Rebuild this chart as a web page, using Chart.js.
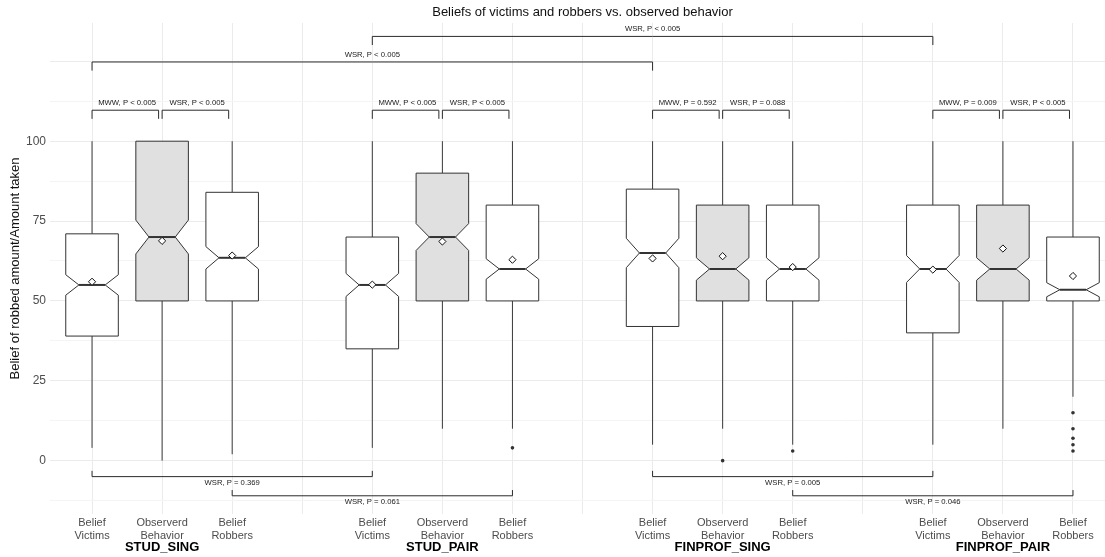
<!DOCTYPE html>
<html>
<head>
<meta charset="utf-8">
<script src="https://cdn.jsdelivr.net/npm/chart.js@4.4.1/dist/chart.umd.min.js"></script>
<style>
  html, body { margin: 0; padding: 0; background: #fff; overflow: hidden; }
  #chart { display: block; }
</style>
</head>
<body>
<canvas id="chart" width="1105" height="557"></canvas>
<script>
// ---- data -------------------------------------------------------------
const groups   = ['STUD_SING', 'STUD_PAIR', 'FINPROF_SING', 'FINPROF_PAIR'];
const measures = [['Belief', 'Victims'], ['Observerd', 'Behavior'], ['Belief', 'Robbers']];

// one entry per box, group by group: victims, observed, robbers
const whiskerLow  = [4, 0, 2,      4, 10, 10,    5, 10, 5,     5, 10, 20];
const lowerHinge  = [39, 50, 50,   35, 50, 50,   42, 50, 50,   40, 50, 50];
const medians     = [55, 70, 63.5, 55, 70, 60,   65, 60, 60,   60, 60, 53.5];
const upperHinge  = [71, 100, 84,  70, 90, 80,   85, 80, 80,   80, 80, 70];
const whiskerHigh = [100, 100, 100, 100, 100, 100, 100, 100, 100, 100, 100, 100];
const notchLow    = [51.8, 64.7, 60.0, 51.4, 65.8, 56.8, 60.4, 56.5, 56.5, 55.8, 56.5, 51.3];
const notchHigh   = [58.2, 75.3, 67.0, 58.6, 74.2, 63.2, 69.6, 63.5, 63.5, 64.2, 63.5, 55.7];
const means       = [56, 68.8, 64.2, 55.1, 68.6, 62.9, 63.3, 64, 60.6, 59.8, 66.4, 57.8];
const observedBox = [false, true, false, false, true, false, false, true, false, false, true, false];

// outlying observations: box index and value
const outlierBox  = [5, 7, 8, 11, 11, 11, 11, 11];
const outlierVals = [4, 0, 3, 15, 10, 7, 5, 3];

// significance tests drawn above the boxes (x slots, bracket height, label)
const aboveFrom  = [1, 2, 5, 6, 9, 10, 13, 14, 1, 5];
const aboveTo    = [2, 3, 6, 7, 10, 11, 14, 15, 9, 13];
const aboveLevel = [109.7, 109.7, 109.7, 109.7, 109.7, 109.7, 109.7, 109.7, 124.8, 132.8];
const aboveLabel = ['MWW, P < 0.005', 'WSR, P < 0.005', 'MWW, P < 0.005', 'WSR, P < 0.005',
                    'MWW, P = 0.592', 'WSR, P = 0.088', 'MWW, P = 0.009', 'WSR, P < 0.005',
                    'WSR, P < 0.005', 'WSR, P < 0.005'];

// significance tests drawn below the boxes
const belowFrom  = [1, 3, 9, 11];
const belowTo    = [5, 7, 13, 15];
const belowLevel = [-5, -11, -5, -11];
const belowLabel = ['WSR, P = 0.369', 'WSR, P = 0.061', 'WSR, P = 0.005', 'WSR, P = 0.046'];

const yTickLabels = [0, 25, 50, 75, 100];
const chartTitle = 'Beliefs of victims and robbers vs. observed behavior';

// ---- helpers ----------------------------------------------------------
const FONT = "'Liberation Sans', Arial, Helvetica, sans-serif";
const X_MIN = 0.4, X_FULL_MAX = 15.6;          // full panel: 15 slots plus side margins
const X_MAX = 15.457;                          // the canvas ends just short of the panel edge
const slotOf = i => Math.floor(i / 3) * 4 + (i % 3) + 1;
const slots = [];
for (let s = 1; s <= 15; s++) slots.push(s);

const meanPoints = means.map((v, i) => ({ x: slotOf(i), y: v }));
const outlierPoints = outlierVals.map((v, k) => ({ x: slotOf(outlierBox[k]), y: v }));

// notched boxes, whiskers, test brackets and the panel title
const boxPlugin = {
  id: 'notchedBoxes',
  beforeDatasetsDraw(chart) {
    const { ctx, scales: { x, y } } = chart;
    ctx.save();
    for (let i = 0; i < medians.length; i++) {
      const s = slotOf(i);
      const xc = x.getPixelForValue(s);
      const x0 = x.getPixelForValue(s - 0.375);
      const x1 = x.getPixelForValue(s + 0.375);
      const n0 = x.getPixelForValue(s - 0.1875);
      const n1 = x.getPixelForValue(s + 0.1875);
      const yq1 = y.getPixelForValue(lowerHinge[i]);
      const yq3 = y.getPixelForValue(upperHinge[i]);
      const ym = y.getPixelForValue(medians[i]);
      const ynl = y.getPixelForValue(notchLow[i]);
      const ynh = y.getPixelForValue(notchHigh[i]);

      // whiskers
      ctx.strokeStyle = '#3a3a3a';
      ctx.lineWidth = 1;
      ctx.beginPath();
      if (whiskerHigh[i] > upperHinge[i]) {
        ctx.moveTo(xc, yq3);
        ctx.lineTo(xc, y.getPixelForValue(whiskerHigh[i]));
      }
      if (whiskerLow[i] < lowerHinge[i]) {
        ctx.moveTo(xc, yq1);
        ctx.lineTo(xc, y.getPixelForValue(whiskerLow[i]));
      }
      ctx.stroke();

      // notched box
      ctx.beginPath();
      ctx.moveTo(x0, yq3);
      ctx.lineTo(x0, ynh);
      ctx.lineTo(n0, ym);
      ctx.lineTo(x0, ynl);
      ctx.lineTo(x0, yq1);
      ctx.lineTo(x1, yq1);
      ctx.lineTo(x1, ynl);
      ctx.lineTo(n1, ym);
      ctx.lineTo(x1, ynh);
      ctx.lineTo(x1, yq3);
      ctx.closePath();
      ctx.fillStyle = observedBox[i] ? '#e0e0e0' : '#ffffff';
      ctx.fill();
      ctx.strokeStyle = '#333333';
      ctx.lineWidth = 1;
      ctx.stroke();

      // median
      ctx.beginPath();
      ctx.moveTo(n0, ym);
      ctx.lineTo(n1, ym);
      ctx.lineWidth = 2;
      ctx.strokeStyle = '#333333';
      ctx.stroke();
    }
    ctx.restore();
  },
  afterDatasetsDraw(chart) {
    const { ctx, scales: { x, y } } = chart;
    ctx.save();
    ctx.strokeStyle = '#2b2b2b';
    ctx.lineWidth = 1;
    ctx.fillStyle = '#1a1a1a';
    ctx.font = `7.7px ${FONT}`;
    ctx.textAlign = 'center';
    ctx.textBaseline = 'middle';

    // brackets above: tips point down
    for (let k = 0; k < aboveFrom.length; k++) {
      const adjacent = aboveTo[k] - aboveFrom[k] === 1;
      const xa = x.getPixelForValue(aboveFrom[k]);
      const xb = x.getPixelForValue(aboveTo[k] - (adjacent ? 0.05 : 0));
      const yl = y.getPixelForValue(aboveLevel[k]);
      const yt = y.getPixelForValue(aboveLevel[k] - 2.7);
      ctx.beginPath();
      ctx.moveTo(xa, yt);
      ctx.lineTo(xa, yl);
      ctx.lineTo(xb, yl);
      ctx.lineTo(xb, yt);
      ctx.stroke();
      const xm = x.getPixelForValue((aboveFrom[k] + aboveTo[k]) / 2);
      ctx.fillText(aboveLabel[k], xm, yl - 7.5);
    }

    // brackets below: tips point up
    for (let k = 0; k < belowFrom.length; k++) {
      const xa = x.getPixelForValue(belowFrom[k]);
      const xb = x.getPixelForValue(belowTo[k]);
      const yl = y.getPixelForValue(belowLevel[k]);
      const yt = y.getPixelForValue(belowLevel[k] + 1.8);
      ctx.beginPath();
      ctx.moveTo(xa, yt);
      ctx.lineTo(xa, yl);
      ctx.lineTo(xb, yl);
      ctx.lineTo(xb, yt);
      ctx.stroke();
      const xm = x.getPixelForValue((belowFrom[k] + belowTo[k]) / 2);
      ctx.fillText(belowLabel[k], xm, yl + 6);
    }

    // title, centred over the whole panel
    ctx.font = `13px ${FONT}`;
    ctx.fillStyle = '#111111';
    ctx.fillText(chartTitle, x.getPixelForValue((X_MIN + X_FULL_MAX) / 2), 12);
    ctx.restore();
  }
};

const yGrid = [];
for (let v = -12.5; v <= 125; v += 12.5) yGrid.push(v);

new Chart(document.getElementById('chart'), {
  type: 'scatter',
  data: {
    datasets: [
      {
        label: 'mean',
        data: meanPoints,
        pointStyle: 'rectRot',
        pointRadius: 3.6,
        pointBackgroundColor: '#ffffff',
        pointBorderColor: '#111111',
        pointBorderWidth: 1
      },
      {
        label: 'outliers',
        data: outlierPoints,
        pointStyle: 'circle',
        pointRadius: 1.8,
        pointBackgroundColor: '#333333',
        pointBorderColor: '#333333',
        pointBorderWidth: 0
      }
    ]
  },
  options: {
    responsive: false,
    maintainAspectRatio: false,
    devicePixelRatio: 1,
    animation: false,
    layout: { autoPadding: false, padding: { top: 23, left: 0, right: 0, bottom: 0 } },
    plugins: {
      legend: { display: false },
      tooltip: { enabled: false },
      title: { display: false }
    },
    scales: {
      x: {
        type: 'linear',
        position: 'bottom',
        min: X_MIN,
        max: X_MAX,
        weight: 0,
        afterBuildTicks: axis => { axis.ticks = slots.map(v => ({ value: v })); },
        afterFit: axis => { axis.height = 26; },
        grid: { color: '#ebebeb', lineWidth: 1, drawTicks: false },
        border: { display: false },
        ticks: {
          autoSkip: false,
          maxRotation: 0,
          padding: 3,
          color: '#4d4d4d',
          font: { family: FONT, size: 11, lineHeight: 1.13 },
          callback: v => (v % 4 === 0 ? '' : measures[(v - 1) % 4])
        }
      },
      groupAxis: {
        type: 'linear',
        position: 'bottom',
        min: X_MIN,
        max: X_MAX,
        weight: 1,
        afterBuildTicks: axis => { axis.ticks = groups.map((g, i) => ({ value: i * 4 + 2 })); },
        afterFit: axis => { axis.height = 17; },
        grid: { display: false, drawTicks: false },
        border: { display: false },
        ticks: {
          autoSkip: false,
          maxRotation: 0,
          padding: 0,
          color: '#000000',
          font: { family: FONT, size: 13, weight: 'bold', lineHeight: 1.2 },
          callback: v => groups[(v - 2) / 4]
        }
      },
      y: {
        type: 'linear',
        min: -16.7,
        max: 137,
        afterBuildTicks: axis => { axis.ticks = yGrid.map(v => ({ value: v })); },
        afterFit: axis => { axis.width = 50; },
        grid: {
          drawTicks: false,
          lineWidth: 1,
          color: c => (c.tick && c.tick.value % 25 === 0 ? '#ebebeb' : '#f4f4f4')
        },
        border: { display: false },
        ticks: {
          autoSkip: false,
          padding: 4,
          color: '#4d4d4d',
          font: { family: FONT, size: 12 },
          callback: v => (yTickLabels.includes(v) ? String(v) : '')
        },
        title: {
          display: true,
          text: 'Belief of robbed amount/Amount taken',
          color: '#111111',
          font: { family: FONT, size: 13, lineHeight: 1.2 },
          padding: { top: 7.2, bottom: 0 }
        }
      }
    }
  },
  plugins: [boxPlugin]
});
</script>
</body>
</html>
